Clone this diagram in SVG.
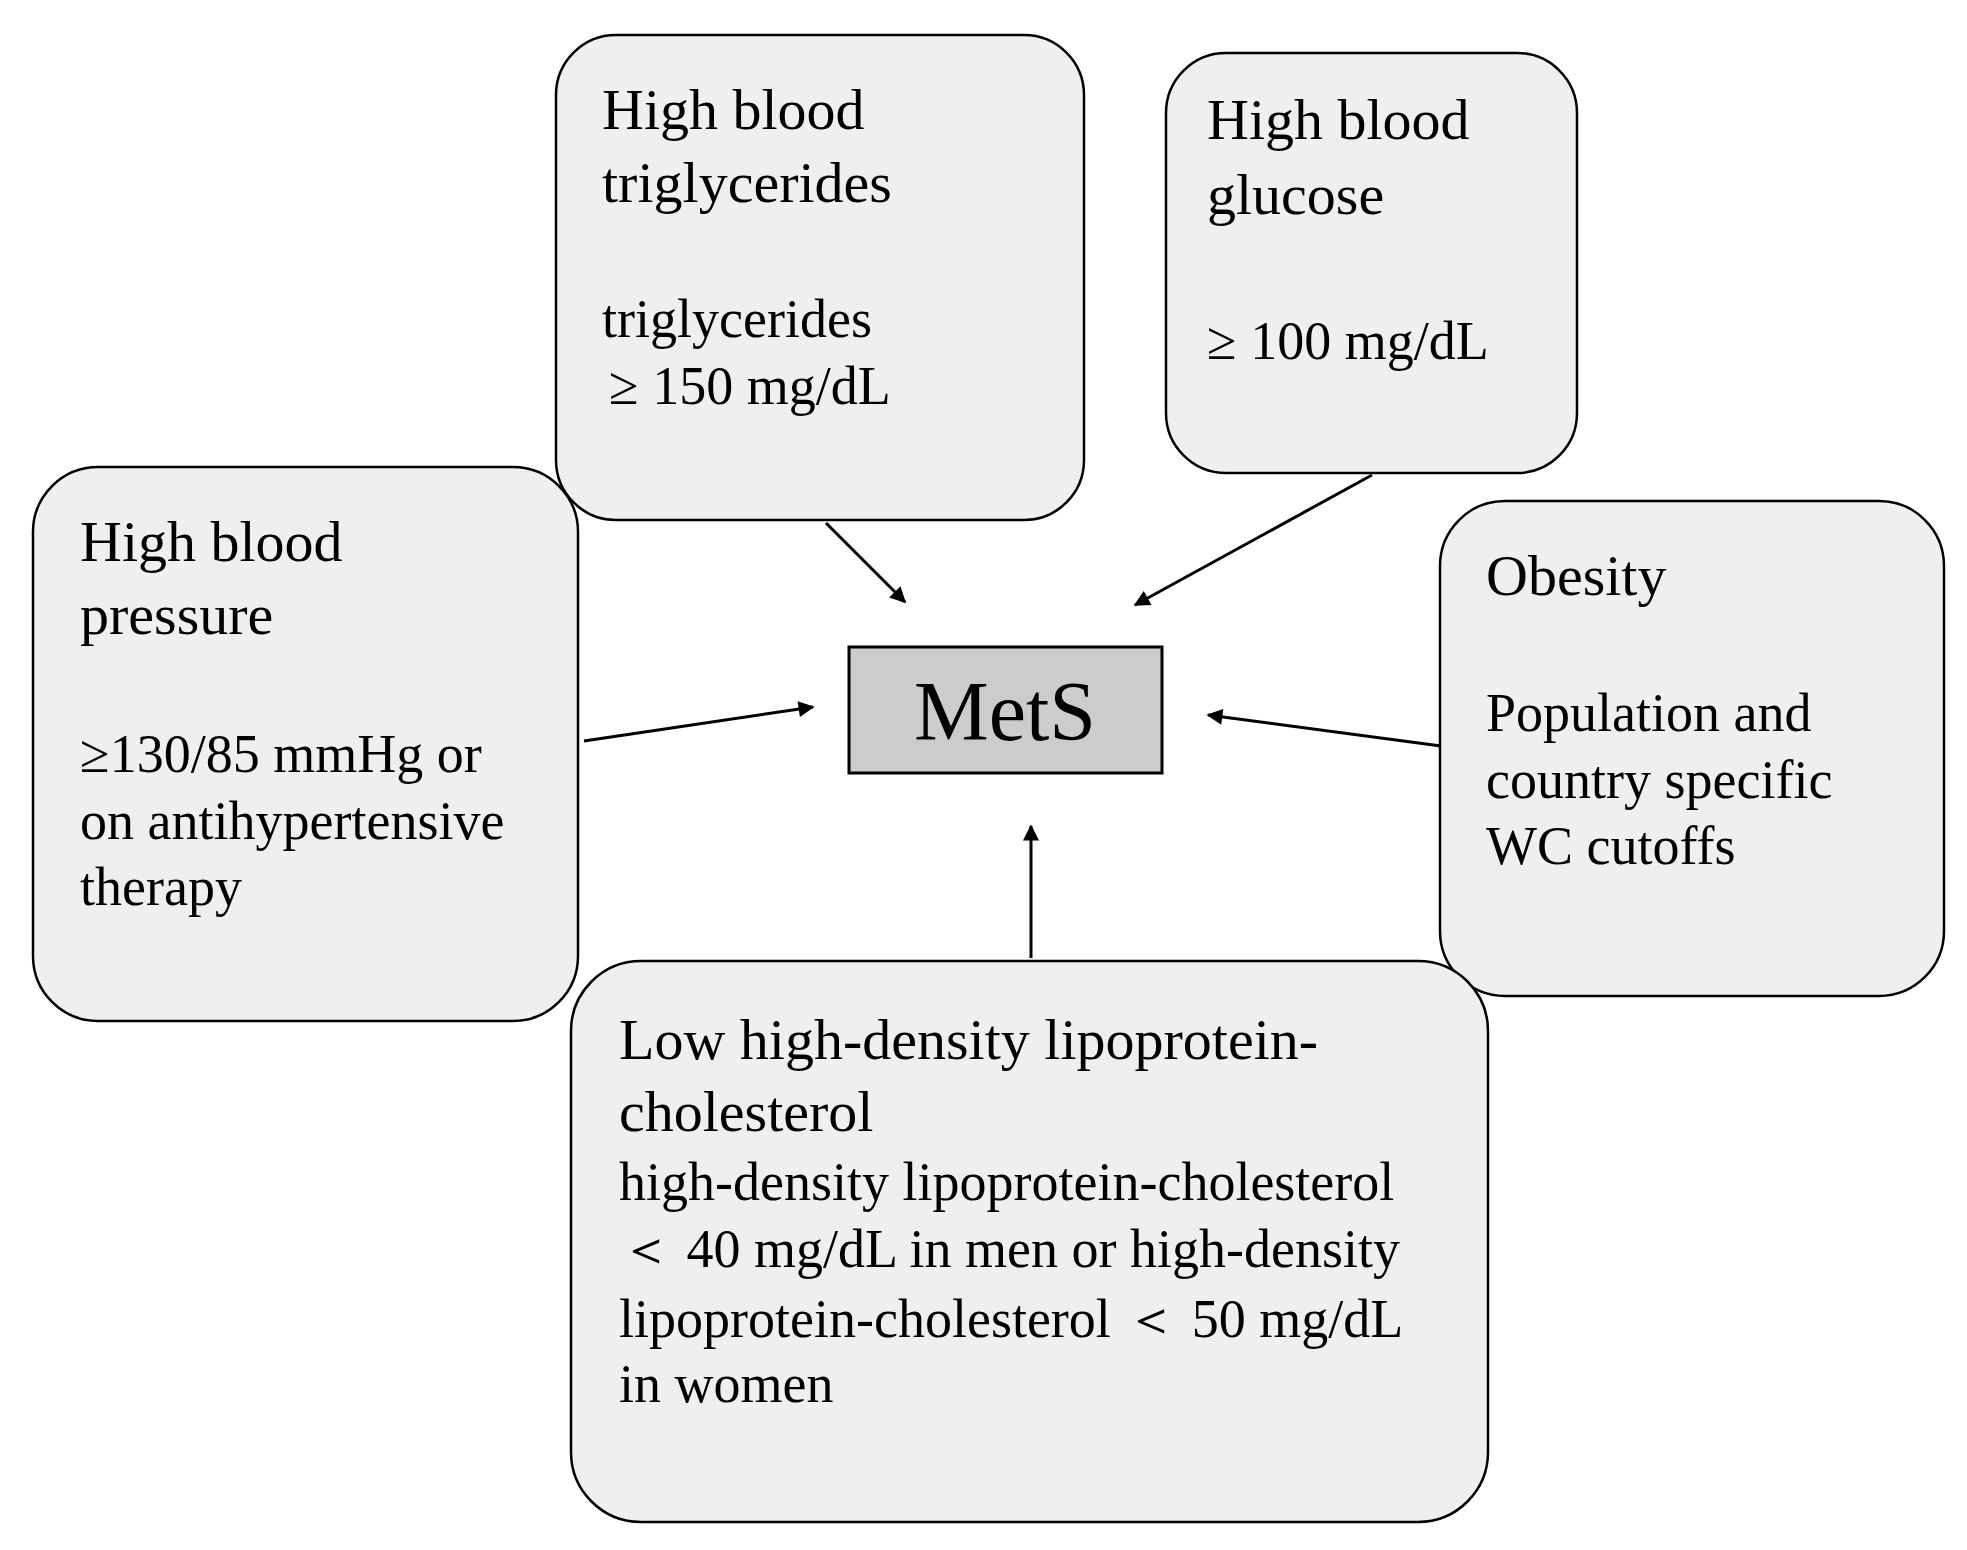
<svg xmlns="http://www.w3.org/2000/svg" width="1967" height="1550" viewBox="0 0 1967 1550">
<style>
.b{fill:#efefef;stroke:#000;stroke-width:2.5}
text{font-family:"Liberation Serif","Times New Roman",serif;fill:#000}
.t{font-size:58px}
.s{font-size:54px}
.c{stroke:#000;stroke-width:3;fill:none;marker-end:url(#a)}
</style>
<defs><marker id="a" viewBox="0 0 10 10" refX="9" refY="5" markerWidth="20" markerHeight="16" orient="auto" markerUnits="userSpaceOnUse"><path d="M0,0L10,5L0,10z" fill="#000"/></marker></defs>
<rect width="1967" height="1550" fill="#fff"/>
<g id="connectors">
<path d="M826,523L905,602" class="c"/>
<path d="M1372,475L1135,605" class="c"/>
<path d="M584,741L813,707" class="c"/>
<path d="M1441,746L1208,715" class="c"/>
<path d="M1031,958L1031,826" class="c"/>
</g>
<g id="mets"><rect x="849" y="647" width="313" height="126" fill="#cccccc" stroke="#000" stroke-width="3"/><text x="1005" y="740" font-size="84" text-anchor="middle">MetS</text></g>
<g id="trig"><rect class="b" x="556" y="35" width="528" height="485" rx="60"/><text class="t" x="602" y="129">High blood</text><text class="t" x="602" y="202">triglycerides</text><text class="s" x="602" y="337">triglycerides</text><text class="s" x="609" y="404">≥ 150 mg/dL</text></g>
<g id="glucose"><rect class="b" x="1166" y="53" width="411" height="420" rx="60"/><text class="t" x="1207" y="139">High blood</text><text class="t" x="1207" y="214">glucose</text><text class="s" x="1207" y="359">≥ 100 mg/dL</text></g>
<g id="bp"><rect class="b" x="33" y="467" width="545" height="554" rx="65"/><text class="t" x="80" y="561">High blood</text><text class="t" x="80" y="634">pressure</text><text class="s" x="80" y="772">≥130/85 mmHg or</text><text class="s" x="80" y="839">on antihypertensive</text><text class="s" x="80" y="905">therapy</text></g>
<g id="obesity"><rect class="b" x="1440" y="501" width="504" height="495" rx="65"/><text class="t" x="1486" y="595">Obesity</text><text class="s" x="1486" y="731">Population and</text><text class="s" x="1486" y="798">country specific</text><text class="s" x="1486" y="864">WC cutoffs</text></g>
<g id="hdl"><rect class="b" x="571" y="961" width="917" height="561" rx="70"/><text class="t" x="619" y="1059">Low high-density lipoprotein-</text><text class="t" x="619" y="1131">cholesterol</text><text class="s" x="619" y="1200">high-density lipoprotein-cholesterol</text><text class="s" x="619" y="1267">＜ 40 mg/dL in men or high-density</text><text class="s" x="619" y="1337">lipoprotein-cholesterol ＜ 50 mg/dL</text><text class="s" x="619" y="1402">in women</text></g>
</svg>
